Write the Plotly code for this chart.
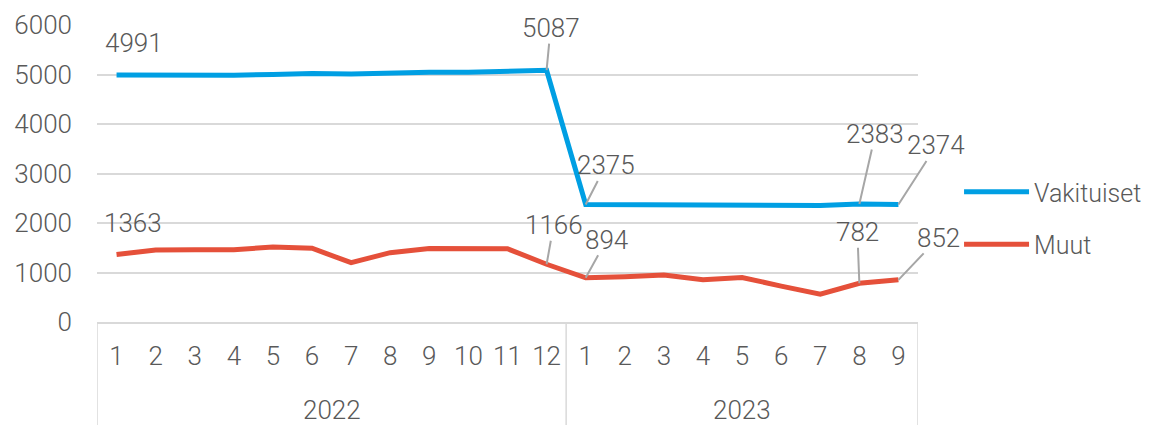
import plotly.graph_objects as go

years = ["2022", "2023"]
year_counts = [12, 9]
months = [str(m) for m in range(1, 13)] + [str(m) for m in range(1, 10)]

vakituiset = [4991, 4985, 4975, 4985, 5000, 5020, 5010, 5040, 5045, 5045, 5055, 5087,
              2375, 2370, 2350, 2345, 2350, 2350, 2355, 2383, 2374]
muut = [1363, 1455, 1460, 1460, 1515, 1490, 1198, 1400, 1485, 1480, 1480, 1166,
        894, 915, 950, 855, 900, 725, 560, 782, 852]

BLUE = "#009FE3"
RED = "#E5503A"
FONT = "Roboto, Arial, sans-serif"
TXT = "#595959"
FS = 26

xs = list(range(len(months)))

fig = go.Figure()
fig.add_trace(go.Scatter(x=xs, y=vakituiset, mode="lines", name="Vakituiset",
                         legendgroup="a", line=dict(color=BLUE, width=5)))
fig.add_trace(go.Scatter(x=xs, y=muut, mode="lines", name="Muut",
                         legendgroup="b", line=dict(color=RED, width=5)))

# data labels: (series, index, ax, ay, arrow)
labels = [
    (vakituiset, 0, 17, -32, False),
    (vakituiset, 11, 4, -42, True),
    (vakituiset, 12, 20, -39, True),
    (vakituiset, 19, 16, -70, True),
    (vakituiset, 20, 38, -59, True),
    (muut, 0, 16, -32, False),
    (muut, 11, 7, -39, True),
    (muut, 12, 21, -38, True),
    (muut, 19, -2, -51, True),
    (muut, 20, 40, -42, True),
]
for series, i, ax, ay, arrow in labels:
    if arrow:
        fig.add_annotation(x=i, y=series[i], text=str(series[i]), showarrow=True,
                           arrowhead=0, arrowwidth=2, arrowcolor="#A6A6A6",
                           ax=ax, ay=ay, standoff=0, borderpad=0,
                           font=dict(family=FONT, size=FS, color=TXT, weight=300))
    else:
        fig.add_annotation(x=i, y=series[i], text=str(series[i]), showarrow=False,
                           xshift=ax, yshift=-ay,
                           font=dict(family=FONT, size=FS, color=TXT, weight=300))

# year group labels and dividers
start = 0
bounds = [-0.5]
for yr, n in zip(years, year_counts):
    mid = start + (n - 1) / 2
    fig.add_annotation(x=mid, y=-0.296, xref="x", yref="paper", text=yr, showarrow=False,
                       yanchor="middle",
                       font=dict(family=FONT, size=FS, color=TXT, weight=300))
    start += n
    bounds.append(start - 0.5)
for b in bounds:
    fig.add_shape(type="line", xref="x", yref="paper", x0=b, x1=b, y0=0, y1=-0.37,
                  line=dict(color="#D9D9D9", width=1.5))

fig.update_layout(
    width=1141, height=417,
    margin=dict(l=89, r=231, t=17, b=103, autoexpand=False),
    plot_bgcolor="white", paper_bgcolor="white",
    font=dict(family=FONT, size=FS, color=TXT, weight=300),
    showlegend=True,
    legend=dict(x=1.05, y=0.35, xanchor="left", yanchor="middle",
                font=dict(family=FONT, size=25, color=TXT, weight=300),
                itemwidth=65, tracegroupgap=17, bgcolor="rgba(0,0,0,0)"),
)
fig.update_yaxes(range=[0, 6000], dtick=1000, showgrid=True, gridcolor="#D9D9D9",
                 gridwidth=1.5, zeroline=False, showline=False, ticks="",
                 automargin=False, ticklabelstandoff=24,
                 tickfont=dict(family=FONT, size=FS, color=TXT, weight=300))
fig.update_xaxes(range=[-0.5, len(months) - 0.5], tickvals=xs, ticktext=months,
                 showgrid=False, zeroline=False, showline=True, linecolor="#D9D9D9",
                 linewidth=1.5, ticks="", automargin=False, ticklabelstandoff=10,
                 tickfont=dict(family=FONT, size=FS, color=TXT, weight=300))

fig.write_html("out.html")
